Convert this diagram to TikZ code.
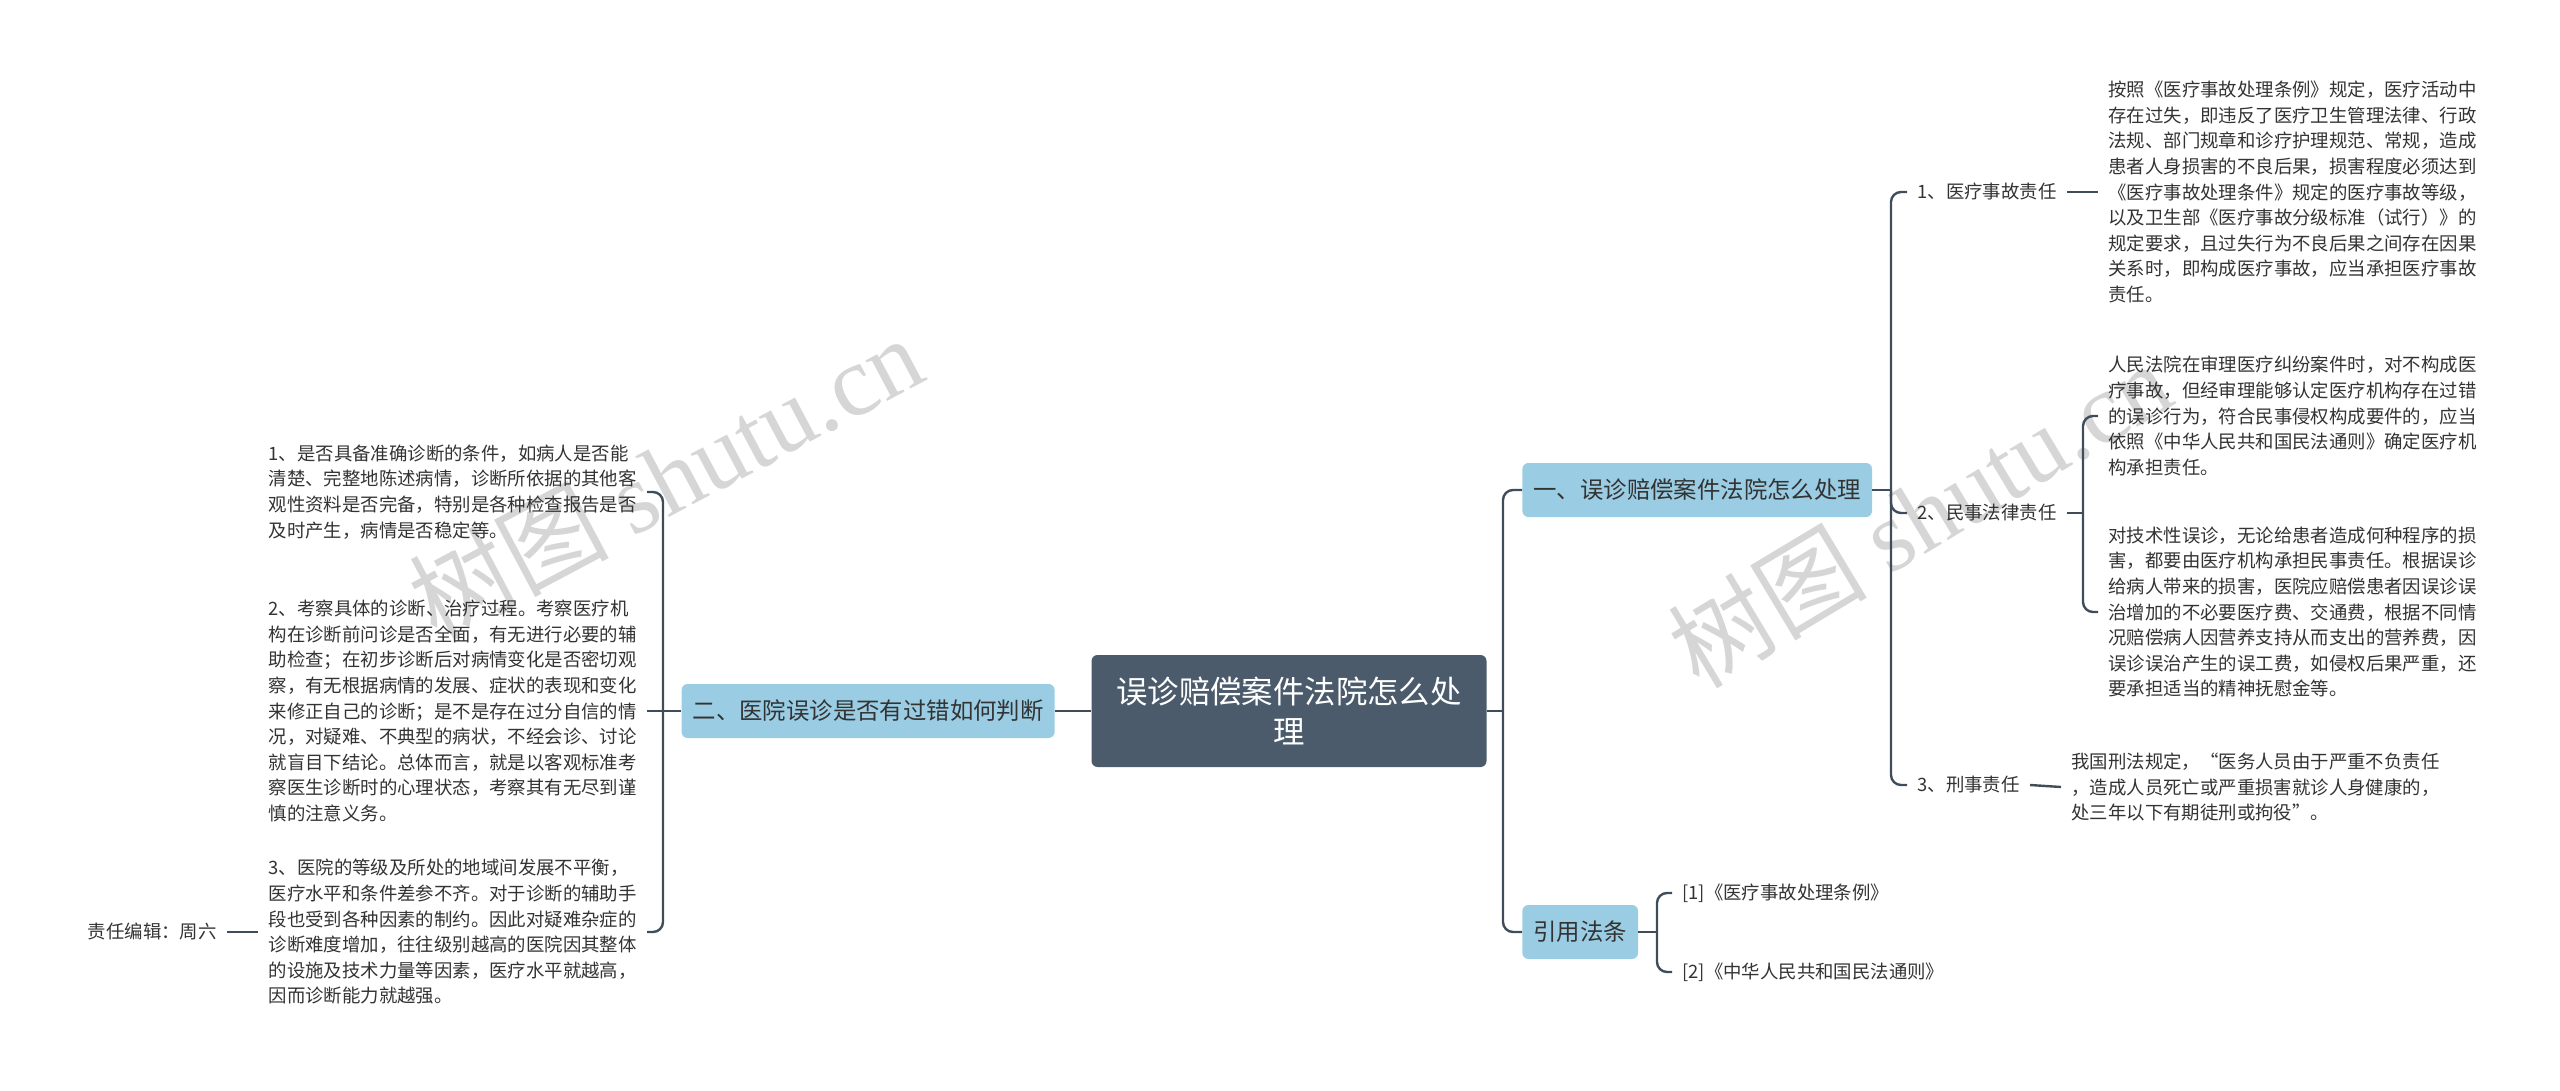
\documentclass[tikz,border=0pt]{standalone}
\usepackage{fontspec}
\setmainfont{Noto Sans CJK SC}
\newfontfamily\wmserif{Liberation Serif}
\usetikzlibrary{positioning}
\definecolor{rootbg}{HTML}{4B5B6B}
\definecolor{branchbg}{HTML}{9ACDE3}
\definecolor{wirec}{HTML}{3F4D5B}
\definecolor{ink}{HTML}{333333}
\definecolor{wmark}{HTML}{D6D6D6}
\tikzset{
  rootnode/.style={fill=rootbg, rounded corners=3pt, text=white, align=center,
    minimum width=197.5pt, minimum height=56pt, font=\fontsize{15.7}{20}\selectfont},
  branch/.style={fill=branchbg, rounded corners=3pt, text=ink, minimum height=27pt,
    inner xsep=5.5pt, font=\fontsize{11.7}{14}\selectfont},
  leaf/.style={text=ink, align=left, inner xsep=5pt, inner ysep=2pt,
    font=\fontsize{9.2}{12.8}\selectfont},
  wire/.style={draw=wirec, line width=1.2pt, rounded corners=5pt},
  wm/.style={text=wmark, font=\fontsize{50}{50}\selectfont},
}

\begin{document}
\begin{tikzpicture}[x=0.5pt,y=-0.5pt]
  \useasboundingbox (0,0) rectangle (2560,1091);

  % watermarks
  \node[wm,rotate=28] (wmL) at (665,477) {树图 {\wmserif shutu.cn}};
  \node[wm,rotate=31] (wmR) at (1919,514) {树图 {\wmserif shutu.cn}};

  % centre and branches
  \node[rootnode] (root) at (1289,711) {误诊赔偿案件法院怎么处\\理};
  \node[branch,anchor=west] (b1) at (1522,490) {一、误诊赔偿案件法院怎么处理};
  \node[branch,anchor=west] (b3) at (1522,932) {引用法条};
  \node[branch,anchor=east] (b2) at (1055,711) {二、医院误诊是否有过错如何判断};

  % left leaves
  \node[leaf,anchor=east] (l1) at (647,492) {1、是否具备准确诊断的条件，如病人是否能\\清楚、完整地陈述病情，诊断所依据的其他客\\观性资料是否完备，特别是各种检查报告是否\\及时产生，病情是否稳定等。};
  \node[leaf,anchor=east] (l2) at (647,711) {2、考察具体的诊断、治疗过程。考察医疗机\\构在诊断前问诊是否全面，有无进行必要的辅\\助检查；在初步诊断后对病情变化是否密切观\\察，有无根据病情的发展、症状的表现和变化\\来修正自己的诊断；是不是存在过分自信的情\\况，对疑难、不典型的病状，不经会诊、讨论\\就盲目下结论。总体而言，就是以客观标准考\\察医生诊断时的心理状态，考察其有无尽到谨\\慎的注意义务。};
  \node[leaf,anchor=east] (l3) at (647,932) {3、医院的等级及所处的地域间发展不平衡，\\医疗水平和条件差参不齐。对于诊断的辅助手\\段也受到各种因素的制约。因此对疑难杂症的\\诊断难度增加，往往级别越高的医院因其整体\\的设施及技术力量等因素，医疗水平就越高，\\因而诊断能力就越强。};
  \node[leaf,anchor=east] (ed) at (227,932) {责任编辑：周六};

  % right leaves
  \node[leaf,anchor=west] (lab1) at (1907,192) {1、医疗事故责任};
  \node[leaf,anchor=west] (lab2) at (1907,513) {2、民事法律责任};
  \node[leaf,anchor=west] (lab3) at (1907,785) {3、刑事责任};
  \node[leaf,anchor=west] (r1) at (2098,192) {按照《医疗事故处理条例》规定，医疗活动中\\存在过失，即违反了医疗卫生管理法律、行政\\法规、部门规章和诊疗护理规范、常规，造成\\患者人身损害的不良后果，损害程度必须达到\\《医疗事故处理条件》规定的医疗事故等级，\\以及卫生部《医疗事故分级标准（试行）》的\\规定要求，且过失行为不良后果之间存在因果\\关系时，即构成医疗事故，应当承担医疗事故\\责任。};
  \node[leaf,anchor=west] (r2a) at (2098,416) {人民法院在审理医疗纠纷案件时，对不构成医\\疗事故，但经审理能够认定医疗机构存在过错\\的误诊行为，符合民事侵权构成要件的，应当\\依照《中华人民共和国民法通则》确定医疗机\\构承担责任。};
  \node[leaf,anchor=west] (r2b) at (2098,612) {对技术性误诊，无论给患者造成何种程序的损\\害，都要由医疗机构承担民事责任。根据误诊\\给病人带来的损害，医院应赔偿患者因误诊误\\治增加的不必要医疗费、交通费，根据不同情\\况赔偿病人因营养支持从而支出的营养费，因\\误诊误治产生的误工费，如侵权后果严重，还\\要承担适当的精神抚慰金等。};
  \node[leaf,anchor=west] (r3) at (2061,787) {我国刑法规定，“医务人员由于严重不负责任\\，造成人员死亡或严重损害就诊人身健康的，\\处三年以下有期徒刑或拘役”。};
  \node[leaf,anchor=west] (ref1) at (1672,893) {[1]《医疗事故处理条例》};
  \node[leaf,anchor=west] (ref2) at (1672,972) {[2]《中华人民共和国民法通则》};

  % spines
  \coordinate (rs) at (1503,711);
  \coordinate (ls) at (663,711);
  \coordinate (s1) at (1891,490);
  \coordinate (s2) at (2083,513);
  \coordinate (s3) at (1657,932);

  % connectors
  \draw[wire] (root.east) -- (rs);
  \draw[wire] (b1.west) -| (rs);
  \draw[wire] (b3.west) -| (rs);
  \draw[wire] (root.west) -- (b2.east);
  \draw[wire] (b2.west) -- (ls);
  \draw[wire] (l1.east) -| (ls);
  \draw[wire] (l2.east) -- (ls);
  \draw[wire] (l3.east) -| (ls);
  \draw[wire] (l3.west) -- (ed.east);
  \draw[wire] (b1.east) -- (s1);
  \draw[wire] (lab1.west) -| (s1);
  \draw[wire] (lab2.west) -| (s1);
  \draw[wire] (lab3.west) -| (s1);
  \draw[wire] (lab1.east) -- (r1.west);
  \draw[wire] (lab2.east) -- (s2);
  \draw[wire] (r2a.west) -| (s2);
  \draw[wire] (r2b.west) -| (s2);
  \draw[wire] (lab3.east) -- (r3.west);
  \draw[wire] (b3.east) -- (s3);
  \draw[wire] (ref1.west) -| (s3);
  \draw[wire] (ref2.west) -| (s3);
\end{tikzpicture}
\end{document}
